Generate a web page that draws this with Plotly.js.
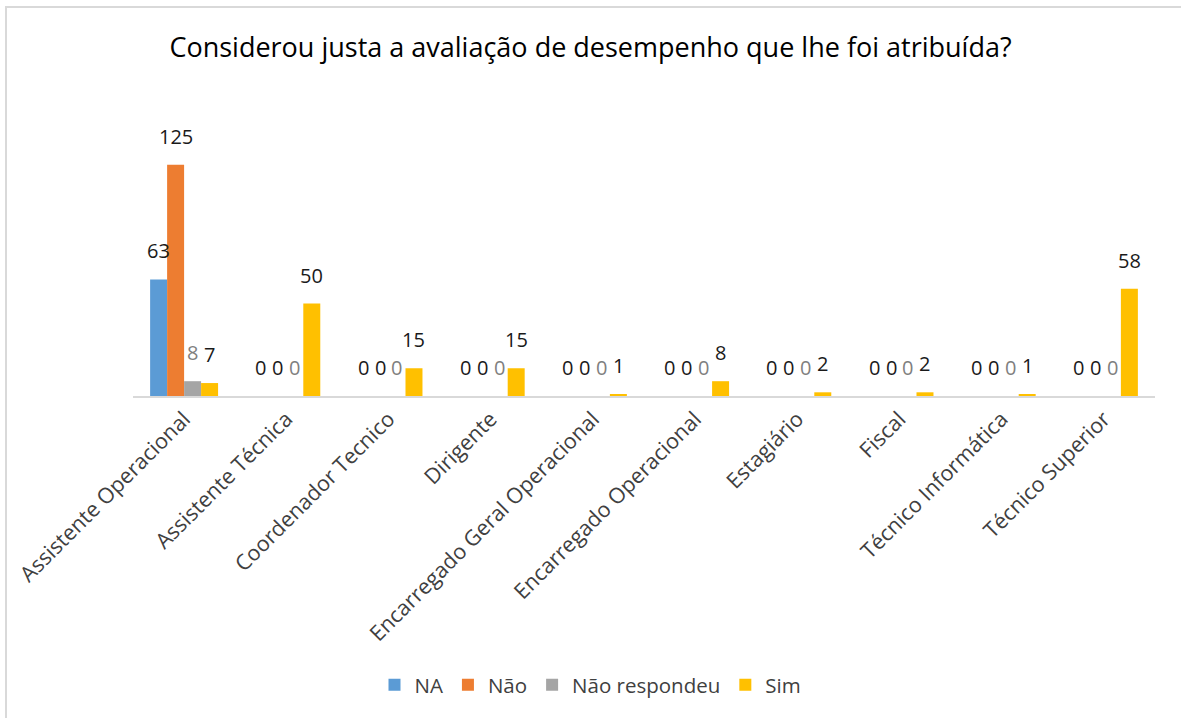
<!DOCTYPE html>
<html>
<head>
<meta charset="utf-8">
<script src="https://cdn.plot.ly/plotly-3.0.1.min.js"></script>
<style>
  html, body { margin: 0; padding: 0; background: #fff; overflow: hidden; width: 1181px; height: 718px; }
  #chart { width: 1181px; height: 718px; position: absolute; left: 0; top: 0; }
  #frameL { position: absolute; left: 5px; top: 6px; width: 2px; height: 712px; background: #d9d9d9; pointer-events: none; }
  #frameT { position: absolute; left: 5px; top: 6px; width: 1176px; height: 2px; background: #d9d9d9; pointer-events: none; }
</style>
</head>
<body>
<div id="chart"></div>
<div id="frameL"></div>
<div id="frameT"></div>
<script>
const categories = ["Assistente Operacional", "Assistente Técnica", "Coordenador Tecnico", "Dirigente",
  "Encarregado Geral Operacional", "Encarregado Operacional", "Estagiário", "Fiscal",
  "Técnico Informática", "Técnico Superior"];
const seriesNames = ["NA", "Não", "Não respondeu", "Sim"];
const naValues = [63, 0, 0, 0, 0, 0, 0, 0, 0, 0];
const naoValues = [125, 0, 0, 0, 0, 0, 0, 0, 0, 0];
const naoRespValues = [8, 0, 0, 0, 0, 0, 0, 0, 0, 0];
const simValues = [7, 50, 15, 15, 1, 8, 2, 2, 1, 58];

const colors = ["#5B9BD5", "#ED7D31", "#A5A5A5", "#FFC000"];
const labelColors = ["#1a1a1a", "#1a1a1a", "#7f7f7f", "#1a1a1a"];
const allValues = [naValues, naoValues, naoRespValues, simValues];
const FONT = "Open Sans, Noto Sans, sans-serif";

const MARGIN_L = 133, MARGIN_R = 26;
const BARGAP = 0.335;
const plotW = 1181 - MARGIN_L - MARGIN_R;
const barPx = plotW / categories.length * (1 - BARGAP) / seriesNames.length;

const traces = allValues.map((vals, i) => ({
  type: "bar",
  name: seriesNames[i],
  x: categories,
  y: vals,
  marker: { color: colors[i] },
  cliponaxis: false,
  hoverinfo: "x+y+name"
}));

const annotations = [];
allValues.forEach((vals, i) => {
  vals.forEach((v, j) => {
    annotations.push({
      xref: "x", yref: "y",
      x: categories[j], y: v,
      text: String(v),
      showarrow: false,
      xanchor: "center", yanchor: "bottom",
      xshift: (i - (seriesNames.length - 1) / 2) * barPx,
      yshift: 13,
      font: { family: FONT, size: 20, color: labelColors[i] }
    });
  });
});

const layout = {
  width: 1181,
  height: 718,
  paper_bgcolor: "#ffffff",
  plot_bgcolor: "#ffffff",
  margin: { l: MARGIN_L, r: MARGIN_R, t: 137, b: 322 },
  title: {
    text: "Considerou justa a avaliação de desempenho que lhe foi atribuída?",
    font: { family: FONT, size: 27, color: "#000000" },
    x: 0.5, xanchor: "center", xref: "container",
    y: 1 - 48 / 718, yanchor: "middle", yref: "container"
  },
  barmode: "group",
  bargap: BARGAP,
  bargroupgap: 0,
  xaxis: {
    type: "category",
    tickangle: -45,
    tickfont: { family: FONT, size: 21.5, color: "#404040" },
    showline: true,
    linecolor: "#d9d9d9",
    linewidth: 2,
    ticks: "",
    showgrid: false,
    zeroline: false
  },
  yaxis: {
    range: [0, 140],
    visible: false,
    showgrid: false,
    zeroline: false
  },
  annotations: annotations,
  showlegend: true,
  legend: {
    orientation: "h",
    x: 0.5, xanchor: "center", xref: "container",
    y: 1 - 685 / 718, yanchor: "middle", yref: "container",
    font: { family: FONT, size: 20.5, color: "#404040" },
    traceorder: "normal",
    itemwidth: 30
  }
};

Plotly.newPlot("chart", traces, layout, { displayModeBar: false, responsive: false });
</script>
</body>
</html>
